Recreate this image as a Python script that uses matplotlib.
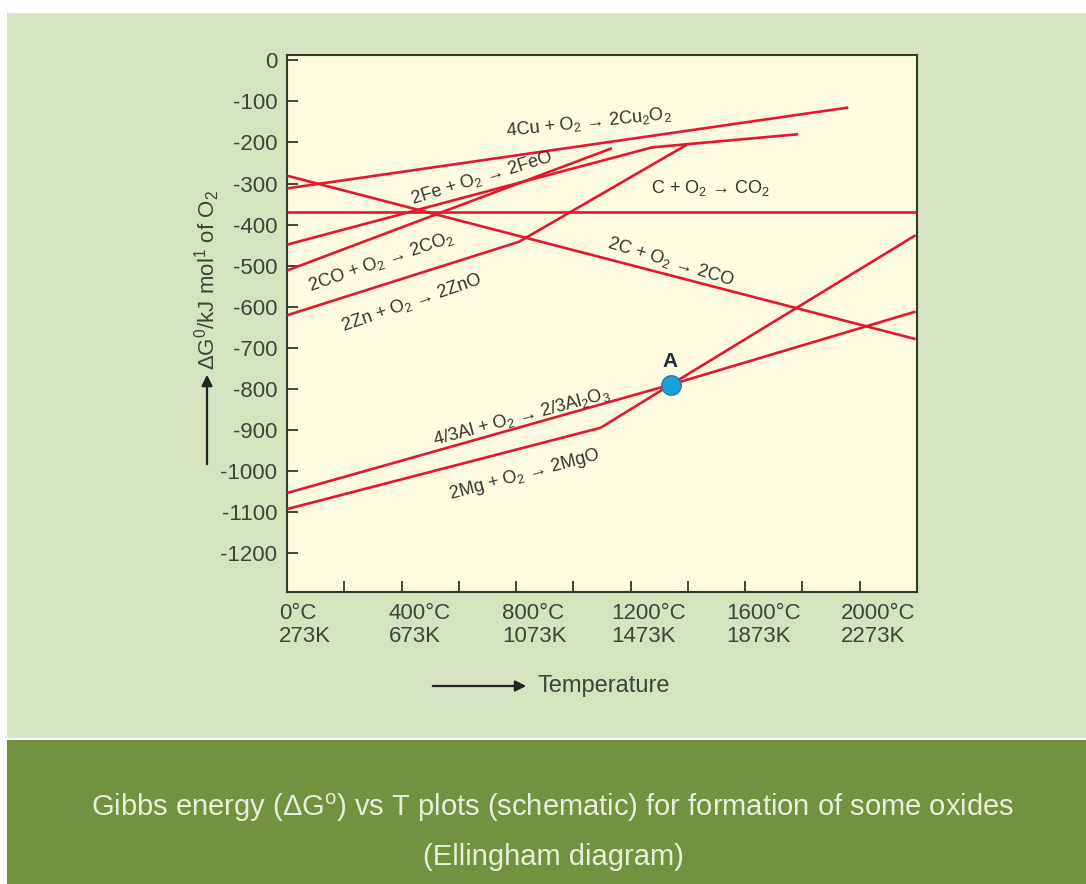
import matplotlib
matplotlib.use("Agg")
import matplotlib.pyplot as plt
import matplotlib.transforms as mtransforms
from matplotlib.patches import Rectangle, FancyArrowPatch

plt.rcParams['font.family'] = ['Liberation Sans', 'DejaVu Sans']
plt.rcParams['mathtext.fontset'] = 'custom'
plt.rcParams['mathtext.rm'] = 'Liberation Sans'
plt.rcParams['mathtext.it'] = 'Liberation Sans'

# data (T in degC, dG in kJ/mol O2)
cu_T = [0, 1960]
cu_G = [-312, -115]
fe_T = [0, 1275, 1785]
fe_G = [-449, -212, -180]
cco2_T = [0, 2195]
cco2_G = [-369, -369]
cco_T = [0, 2195]
cco_G = [-281, -679]
co_T = [0, 1135]
co_G = [-512, -214]
zn_T = [0, 810, 1395]
zn_G = [-621, -442, -206]
al_T = [0, 1340, 2195]
al_G = [-1054, -790, -612]
mg_T = [0, 1095, 1340, 2195]
mg_G = [-1093, -895, -790, -426]
pointA = (1340, -790)

yticks = list(range(0, -1201, -100))
xticks_major = [0, 400, 800, 1200, 1600, 2000]
xtick_labels = ['0°C\n273K', '400°C\n673K', '800°C\n1073K',
                '1200°C\n1473K', '1600°C\n1873K', '2000°C\n2273K']
xticks_minor = [200, 600, 1000, 1400, 1800, 2200]

red = '#e3172f'
txt = '#3b4637'
dark = '#2e3a2a'

W, H = 1086, 884
fig = plt.figure(figsize=(W / 100, H / 100), dpi=100, facecolor='white')
# light panel and caption band
fig.patches.append(Rectangle((7 / W, (H - 738) / H), (W - 7) / W, (738 - 13) / H,
                             transform=fig.transFigure, facecolor='#d5e3c0', edgecolor='none', zorder=-10))
fig.patches.append(Rectangle((7 / W, 0), (W - 7) / W, (H - 740) / H,
                             transform=fig.transFigure, facecolor='#73923f', edgecolor='none', zorder=-10))

ax = fig.add_axes([287 / W, 1 - 592 / H, (917 - 287) / W, (592 - 55) / H])
ax.set_facecolor('#fffbe0')

lw = 1.9
for T, G in [(cu_T, cu_G), (fe_T, fe_G), (cco2_T, cco2_G), (cco_T, cco_G),
             (co_T, co_G), (zn_T, zn_G), (al_T, al_G), (mg_T, mg_G)]:
    ax.plot(T, G, color=red, lw=lw, solid_capstyle='butt', zorder=3)

ax.plot(*pointA, 'o', ms=14, color='#1e9fdb', mec='#2a78a8', mew=1, zorder=4)
ax.text(pointA[0] - 4, pointA[1] + 33, 'A', ha='center', va='bottom', fontsize=15,
        fontweight='bold', color='#1f2a44', zorder=5)

lab = dict(fontsize=13, color='#333333', ha='center', va='center', rotation_mode='anchor', zorder=5)
ax.text(1054, -151, r'4Cu + O$_2$ → 2Cu$_2$O$_2$', rotation=6, **lab)
ax.text(680, -287, r'2Fe + O$_2$ → 2FeO', rotation=17, **lab)
ax.text(1479, -311, r'C + O$_2$ → CO$_2$', rotation=0, **lab)
ax.text(328, -491, r'2CO + O$_2$ → 2CO$_2$', rotation=19, **lab)
ax.text(433, -591, r'2Zn + O$_2$ → 2ZnO', rotation=19, **lab)
ax.text(1340, -491, r'2C + O$_2$ → 2CO', rotation=-17, **lab)
ax.text(820, -869, r'4/3Al + O$_2$ → 2/3Al$_2$O$_3$', rotation=15, **lab)
ax.text(830, -1010, r'2Mg + O$_2$ → 2MgO', rotation=15, **lab)

ax.set_xlim(0, 2195)
ax.set_ylim(-1295, 13)
ax.set_yticks(yticks)
ax.set_yticklabels([str(v) for v in yticks])
ax.set_xticks(xticks_major)
ax.set_xticklabels(xtick_labels)
ax.set_xticks(xticks_minor, minor=True)
ax.tick_params(axis='both', which='both', direction='in', length=8, width=1.3,
               color=dark, labelcolor=txt, labelsize=16)
ax.tick_params(axis='y', pad=7)
ax.tick_params(axis='x', pad=8)
for s in ax.spines.values():
    s.set_color(dark)
    s.set_linewidth(1.5)

off = mtransforms.ScaledTranslation(18 / 100, 0, fig.dpi_scale_trans)
for t in ax.get_xticklabels():
    t.set_multialignment('left')
    t.set_linespacing(1.1)
    t.set_transform(t.get_transform() + off)

# axis titles with arrows
fig.text(537 / W, 1 - 686 / H, 'Temperature', fontsize=17, color=txt, ha='left', va='center')
fig.add_artist(FancyArrowPatch((430 / W, 1 - 686 / H), (529 / W, 1 - 686 / H),
               transform=fig.transFigure, arrowstyle='-|>', color='#222222', lw=1.6, mutation_scale=16))
fig.text(207 / W, 1 - 280 / H, r'$\Delta$G$^0$/kJ mol$^{\mathrm{1}}$ of O$_2$', fontsize=16,
         color=txt, rotation=90, ha='center', va='center')
fig.add_artist(FancyArrowPatch((207 / W, 1 - 467 / H), (207 / W, 1 - 372 / H),
               transform=fig.transFigure, arrowstyle='-|>', color='#222222', lw=1.6, mutation_scale=16))

cap = '#e8efda'
fig.text(553 / W, 1 - 808 / H, r'Gibbs energy ($\Delta$G$^{\mathrm{o}}$) vs T plots (schematic) for formation of some oxides',
         fontsize=21, color=cap, ha='center', va='center')
fig.text(553 / W, 1 - 857 / H, '(Ellingham diagram)', fontsize=21, color=cap, ha='center', va='center')

fig.savefig('out.png', dpi=100, facecolor=fig.get_facecolor())
